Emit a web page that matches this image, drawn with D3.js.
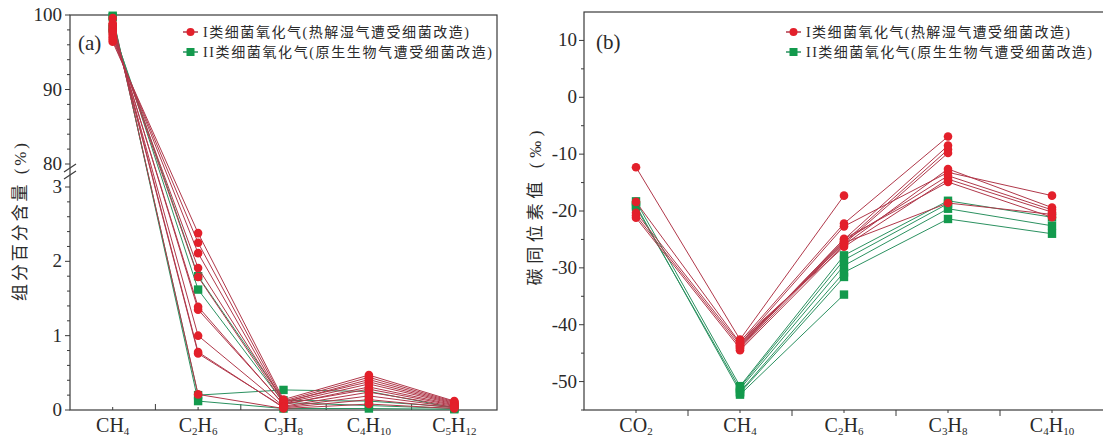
<!DOCTYPE html>
<html><head><meta charset="utf-8">
<script src="https://cdn.jsdelivr.net/npm/d3@7"></script>
<style>body{margin:0;background:#fff}svg{display:block}</style>
</head><body><svg id="c" width="1103" height="443"></svg>
<script>
// ---------- data ----------
const catsA = ["CH4", "C2H6", "C3H8", "C4H10", "C5H12"];
const catsB = ["CO2", "CH4", "C2H6", "C3H8", "C4H10"];
const legendI = "I类细菌氧化气(热解湿气遭受细菌改造)";
const legendII = "II类细菌氧化气(原生生物气遭受细菌改造)";
const yTitleA = "组分百分含量 (%)";
const yTitleB = "碳同位素值 (‰)";
const ticksAUpper = [100, 90, 80];
const ticksALower = [0, 1, 2, 3];
const ticksB = [-50, -40, -30, -20, -10, 0, 10];

// panel (a): component percentage, [CH4, C2H6, C3H8, C4H10, C5H12]
const typeI_A = [
  [96.4, 2.38, 0.14, 0.47, 0.12],
  [96.7, 2.25, 0.12, 0.44, 0.11],
  [97.0, 2.11, 0.10, 0.41, 0.10],
  [97.3, 1.91, 0.11, 0.38, 0.09],
  [97.6, 1.79, 0.09, 0.35, 0.08],
  [97.9, 1.39, 0.07, 0.31, 0.07],
  [98.1, 1.35, 0.08, 0.28, 0.06],
  [98.4, 1.00, 0.05, 0.24, 0.05],
  [98.7, 0.76, 0.04, 0.19, 0.04],
  [98.9, 0.78, 0.03, 0.14, 0.03],
  [99.6, 0.21, 0.02, 0.08, 0.02]
];
const typeII_A = [
  [99.9, 0.12, 0.02, 0.02, 0.01],
  [99.7, 0.20, 0.27, 0.25, 0.03],
  [98.1, 1.80, 0.13, 0.12, 0.04],
  [98.3, 1.62, 0.10, 0.06, 0.02]
];

// panel (b): carbon isotope values, [CO2, CH4, C2H6, C3H8, C4H10]
const typeI_B = [
  [-12.3, -42.6, -17.3, null, null],
  [null, -43.0, -22.2, -6.9, null],
  [-20.3, -43.4, -22.7, -13.2, -17.3],
  [-20.8, -43.8, -25.0, -8.5, null],
  [-21.2, -44.2, -25.5, -9.2, null],
  [-18.4, -43.2, -25.8, -9.8, null],
  [null, -44.5, -26.0, -12.6, -19.4],
  [null, -43.6, -25.3, -13.8, -19.8],
  [null, -42.8, -26.3, -14.4, -20.2],
  [null, -44.0, -24.9, -14.9, -21.1],
  [null, -43.3, -25.6, -18.6, -20.6]
];
const typeII_B = [
  [-18.3, -50.8, -27.8, -18.2, -21.1],
  [-19.3, -51.3, -29.6, -19.6, -22.6],
  [-19.0, -51.8, -30.8, -21.4, -24.0],
  [null, -52.0, -31.6, null, null],
  [null, -52.3, -34.7, null, null],
  [null, -51.0, -28.6, -18.7, null]
];

// ---------- style ----------
const RED_M = "#e3202b", RED_L = "#b0384a", GRN_M = "#139a4d", GRN_L = "#2b9160";
const AX = "#3a3a3a", TXT = "#2a2a2a";
const SERIF = "'Liberation Serif','Times New Roman',serif";
const CJK = "'Liberation Serif','Noto Sans CJK SC',serif";

const svg = d3.select("#c");

function catLabel(g, x, y, s) {
  const t = g.append("text").attr("x", x).attr("y", y).attr("text-anchor", "middle")
    .attr("font-family", SERIF).attr("font-size", 20).attr("fill", TXT);
  let prevSub = false;
  s.split(/(\d+)/).filter(p => p.length).forEach(p => {
    const isSub = /^\d+$/.test(p);
    if (isSub) t.append("tspan").attr("font-size", 11).attr("dy", 3).text(p);
    else t.append("tspan").attr("dy", prevSub ? -3 : 0).text(p);
    prevSub = isSub;
  });
}

function drawSeries(g, data, cats, x, y, lineColor, markColor, shape) {
  data.forEach(row => {
    const pts = row.map((v, i) => ({ c: cats[i], v }));
    const line = d3.line().defined(d => d.v != null).x(d => x(d.c)).y(d => y(d.v));
    g.append("path").attr("d", line(pts)).attr("fill", "none")
      .attr("stroke", lineColor).attr("stroke-width", 1);
  });
  data.forEach(row => {
    row.forEach((v, i) => {
      if (v == null) return;
      if (shape === "circle")
        g.append("circle").attr("cx", x(cats[i])).attr("cy", y(v)).attr("r", 4.3).attr("fill", markColor);
      else
        g.append("rect").attr("x", x(cats[i]) - 4.2).attr("y", y(v) - 4.2).attr("width", 8.4).attr("height", 8.4).attr("fill", markColor);
    });
  });
}

function legend(g, x0, yy, tl1, tl2) {
  const rows = [
    { t: legendI, l: RED_L, m: RED_M, s: "circle", len: tl1 },
    { t: legendII, l: GRN_L, m: GRN_M, s: "rect", len: tl2 }
  ];
  rows.forEach((r, i) => {
    const cy = yy + i * 20;
    g.append("line").attr("x1", x0).attr("x2", x0 + 15).attr("y1", cy).attr("y2", cy)
      .attr("stroke", r.l).attr("stroke-width", 1.5);
    if (r.s === "circle") g.append("circle").attr("cx", x0 + 7.5).attr("cy", cy).attr("r", 4).attr("fill", r.m);
    else g.append("rect").attr("x", x0 + 3.5).attr("y", cy - 4).attr("width", 8).attr("height", 8).attr("fill", r.m);
    g.append("text").attr("x", x0 + 20).attr("y", cy + 5).attr("font-family", CJK).attr("font-size", 14)
      .attr("fill", TXT).attr("textLength", r.len).attr("lengthAdjust", "spacing").text(r.t);
  });
}

// ================= panel (a) =================
{
  const L = 70, R = 497, T = 15, B = 410;
  const g = svg.append("g");
  const x = d3.scalePoint().domain(catsA).range([L, R]).padding(0.5);
  const yUp = d3.scaleLinear().domain([80, 100]).range([164, T]);
  const yLo = d3.scaleLinear().domain([0, 3]).range([B, 187]);
  const y = v => v >= 50 ? yUp(v) : yLo(v);

  g.append("rect").attr("x", L).attr("y", T).attr("width", R - L).attr("height", B - T)
    .attr("fill", "none").attr("stroke", AX).attr("stroke-width", 1.2);

  const yt = g.append("g");
  ticksAUpper.forEach(v => {
    yt.append("line").attr("x1", L - 5).attr("x2", L).attr("y1", yUp(v)).attr("y2", yUp(v)).attr("stroke", AX);
    yt.append("text").attr("x", L - 8).attr("y", yUp(v) + 6).attr("text-anchor", "end")
      .attr("font-family", SERIF).attr("font-size", 19).attr("fill", TXT).text(v);
  });
  d3.range(82, 100, 2).filter(v => v % 10).forEach(v =>
    yt.append("line").attr("x1", L - 3).attr("x2", L).attr("y1", yUp(v)).attr("y2", yUp(v)).attr("stroke", AX));
  ticksALower.forEach(v => {
    yt.append("line").attr("x1", L - 5).attr("x2", L).attr("y1", yLo(v)).attr("y2", yLo(v)).attr("stroke", AX);
    yt.append("text").attr("x", L - 8).attr("y", yLo(v) + 6).attr("text-anchor", "end")
      .attr("font-family", SERIF).attr("font-size", 19).attr("fill", TXT).text(v);
  });
  d3.range(0, 3, 0.2).map(v => +v.toFixed(1)).filter(v => v % 1).forEach(v =>
    yt.append("line").attr("x1", L - 3).attr("x2", L).attr("y1", yLo(v)).attr("y2", yLo(v)).attr("stroke", AX));
  [0, 7].forEach(dy => {
    g.append("line").attr("x1", L - 6).attr("y1", 172 + dy).attr("x2", L + 6).attr("y2", 164 + dy)
      .attr("stroke", AX).attr("stroke-width", 1.2);
  });

  const step = x.step();
  catsA.forEach((c, i) => {
    g.append("line").attr("x1", x(c)).attr("x2", x(c)).attr("y1", B).attr("y2", B - 3).attr("stroke", AX);
    if (i > 0) g.append("line").attr("x1", x(c) - step / 2).attr("x2", x(c) - step / 2).attr("y1", B).attr("y2", B - 6).attr("stroke", AX);
    catLabel(g, x(c), 432, c);
  });

  drawSeries(g, typeII_A, catsA, x, y, GRN_L, GRN_M, "rect");
  drawSeries(g, typeI_A, catsA, x, y, RED_L, RED_M, "circle");

  g.append("text").attr("x", 78).attr("y", 50).attr("font-family", SERIF).attr("font-size", 21).attr("fill", TXT).text("(a)");
  legend(g, 183, 32, 266, 289);

  g.append("text").attr("transform", "translate(26,222) rotate(-90)").attr("text-anchor", "middle")
    .attr("font-family", CJK).attr("font-size", 17).attr("fill", TXT)
    .attr("textLength", 158).attr("lengthAdjust", "spacing").text(yTitleA);
}

// ================= panel (b) =================
{
  const L = 584, R = 1104, T = 12, B = 410;
  const g = svg.append("g");
  const x = d3.scalePoint().domain(catsB).range([L, R]).padding(0.5);
  const y = d3.scaleLinear().domain([-55, 15]).range([B, T]);

  g.append("rect").attr("x", L).attr("y", T).attr("width", R - L).attr("height", B - T)
    .attr("fill", "none").attr("stroke", AX).attr("stroke-width", 1.2);

  ticksB.forEach(v => {
    g.append("line").attr("x1", L - 5).attr("x2", L).attr("y1", y(v)).attr("y2", y(v)).attr("stroke", AX);
    g.append("text").attr("x", L - 7).attr("y", y(v) + 6).attr("text-anchor", "end")
      .attr("font-family", SERIF).attr("font-size", 19).attr("fill", TXT).text(v);
  });
  d3.range(-55, 15, 5).filter(v => v % 10).forEach(v =>
    g.append("line").attr("x1", L - 3).attr("x2", L).attr("y1", y(v)).attr("y2", y(v)).attr("stroke", AX));

  const step = x.step();
  catsB.forEach((c, i) => {
    g.append("line").attr("x1", x(c)).attr("x2", x(c)).attr("y1", B).attr("y2", B + 3).attr("stroke", AX);
    if (i > 0) g.append("line").attr("x1", x(c) - step / 2).attr("x2", x(c) - step / 2).attr("y1", B).attr("y2", B + 6).attr("stroke", AX);
    catLabel(g, x(c), 432, c);
  });

  drawSeries(g, typeII_B, catsB, x, y, GRN_L, GRN_M, "rect");
  drawSeries(g, typeI_B, catsB, x, y, RED_L, RED_M, "circle");

  g.append("text").attr("x", 596).attr("y", 49).attr("font-family", SERIF).attr("font-size", 21).attr("fill", TXT).text("(b)");
  legend(g, 786, 32, 264, 286);

  g.append("text").attr("transform", "translate(541,208) rotate(-90)").attr("text-anchor", "middle")
    .attr("font-family", CJK).attr("font-size", 17).attr("fill", TXT)
    .attr("textLength", 155).attr("lengthAdjust", "spacing").text(yTitleB);
}
</script>
</body></html>
